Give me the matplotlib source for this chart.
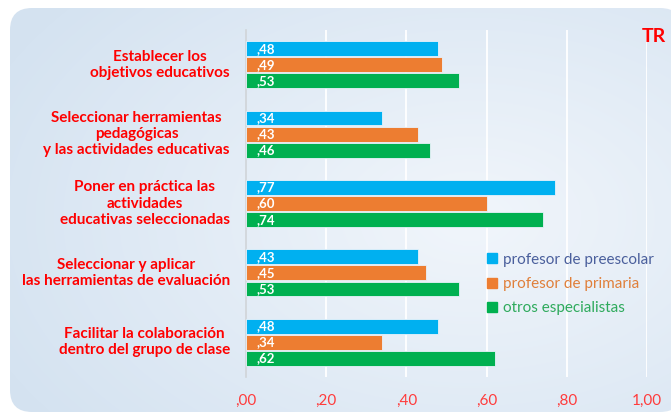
import numpy as np
import matplotlib
matplotlib.use("Agg")
import matplotlib.pyplot as plt
from matplotlib.patches import FancyBboxPatch
from matplotlib.lines import Line2D

# Data, top group first
categories = [
    "Establecer los\nobjetivos educativos",
    "Seleccionar herramientas\npedagógicas\ny las actividades educativas",
    "Poner en práctica las\nactividades\neducativas seleccionadas",
    "Seleccionar y aplicar\nlas herramientas de evaluación",
    "Facilitar la colaboración\ndentro del grupo de clase",
]
preescolar = [0.48, 0.34, 0.77, 0.43, 0.48]
primaria = [0.49, 0.43, 0.60, 0.45, 0.34]
especialistas = [0.53, 0.46, 0.74, 0.53, 0.62]
series_names = ["profesor de preescolar", "profesor de primaria", "otros especialistas"]
xticks = [0.0, 0.2, 0.4, 0.6, 0.8, 1.0]
xtick_labels = [",00", ",20", ",40", ",60", ",80", "1,00"]

BLUE = "#00b0f0"
ORANGE = "#ed7d31"
GREEN = "#00b050"
RED = "#ff0000"

plt.rcParams["font.family"] = ["Lato", "DejaVu Sans"]

W, H = 671, 419
fig = plt.figure(figsize=(W / 100, H / 100), dpi=100)
fig.patch.set_facecolor("white")

# rounded panel with a soft radial gradient, drawn in pixel units
bg = fig.add_axes([0, 0, 1, 1], zorder=-1)
bg.set_xlim(0, W)
bg.set_ylim(0, H)
bg.axis("off")
yy, xx = np.mgrid[0:H, 0:W]
r = np.sqrt(((xx - 470) / 520.0) ** 2 + ((yy - 200) / 330.0) ** 2)
r = np.clip(r, 0, 1)
c0 = np.array([0.945, 0.963, 0.985])
c1 = np.array([0.835, 0.890, 0.945])
img = c0 + (c1 - c0) * r[..., None]
panel = FancyBboxPatch((10, 7), 672, 404, boxstyle="round,pad=0,rounding_size=22",
                       transform=bg.transData, facecolor="none", edgecolor="none")
bg.add_patch(panel)
im = bg.imshow(img, extent=[0, W, 0, H], origin="lower", aspect="auto")
im.set_clip_path(panel)

ax = fig.add_axes([246 / W, 1 - 377 / H, 401 / W, 347 / H])
ax.set_facecolor("none")

n = len(categories)
y = np.arange(n)[::-1].astype(float)
h = 0.215
off = 0.232
groups = [(preescolar, BLUE, off), (primaria, ORANGE, 0.0), (especialistas, GREEN, -off)]
for vals, col, dy in groups:
    ax.barh(y + dy, vals, height=h, color=col, edgecolor="#e8f2fb", linewidth=0.6, zorder=3)
    for yi, v in zip(y + dy, vals):
        ax.text(0.027, yi, f",{int(round(v * 100)):02d}", color="white", fontsize=9.5,
                fontweight="bold", va="center", ha="left", zorder=4)

ax.set_xlim(0, 1.0)
ax.set_ylim(-0.5, n - 0.5)
ax.set_xticks(xticks)
ax.set_xticklabels(xtick_labels, color="#ff3b3b", fontsize=11)
ax.tick_params(axis="x", length=0, pad=12)
ax.set_yticks([])
for x in xticks[1:]:
    ax.axvline(x, color="white", linewidth=1.3, zorder=1)
for s in ["top", "right", "bottom"]:
    ax.spines[s].set_visible(False)
ax.spines["left"].set_color("#d0d4d8")
ax.spines["left"].set_linewidth(1.2)

# category labels, centred lines, right edge just left of the axis
for yi, lab in zip(y, categories):
    ax.text(-0.04, yi, lab, transform=ax.get_yaxis_transform(), ha="right", va="center",
            multialignment="center", color=RED, fontsize=11, fontweight="bold",
            linespacing=1.2)

handles = [Line2D([], [], marker="s", linestyle="none", markersize=6.5, color=c)
           for c in (BLUE, ORANGE, GREEN)]
leg = ax.legend(handles, series_names, loc="upper left", bbox_to_anchor=(0.567, 0.398),
                frameon=False, fontsize=11, handlelength=0.6, handletextpad=0.45,
                labelspacing=0.68, labelcolor=["#4a5f9c", "#e07f3a", "#2eaa5c"])

fig.text(654 / W, 1 - 37 / H, "TR", color=RED, fontsize=14, fontweight="bold",
         ha="center", va="center")

fig.savefig("out.png", dpi=100)
